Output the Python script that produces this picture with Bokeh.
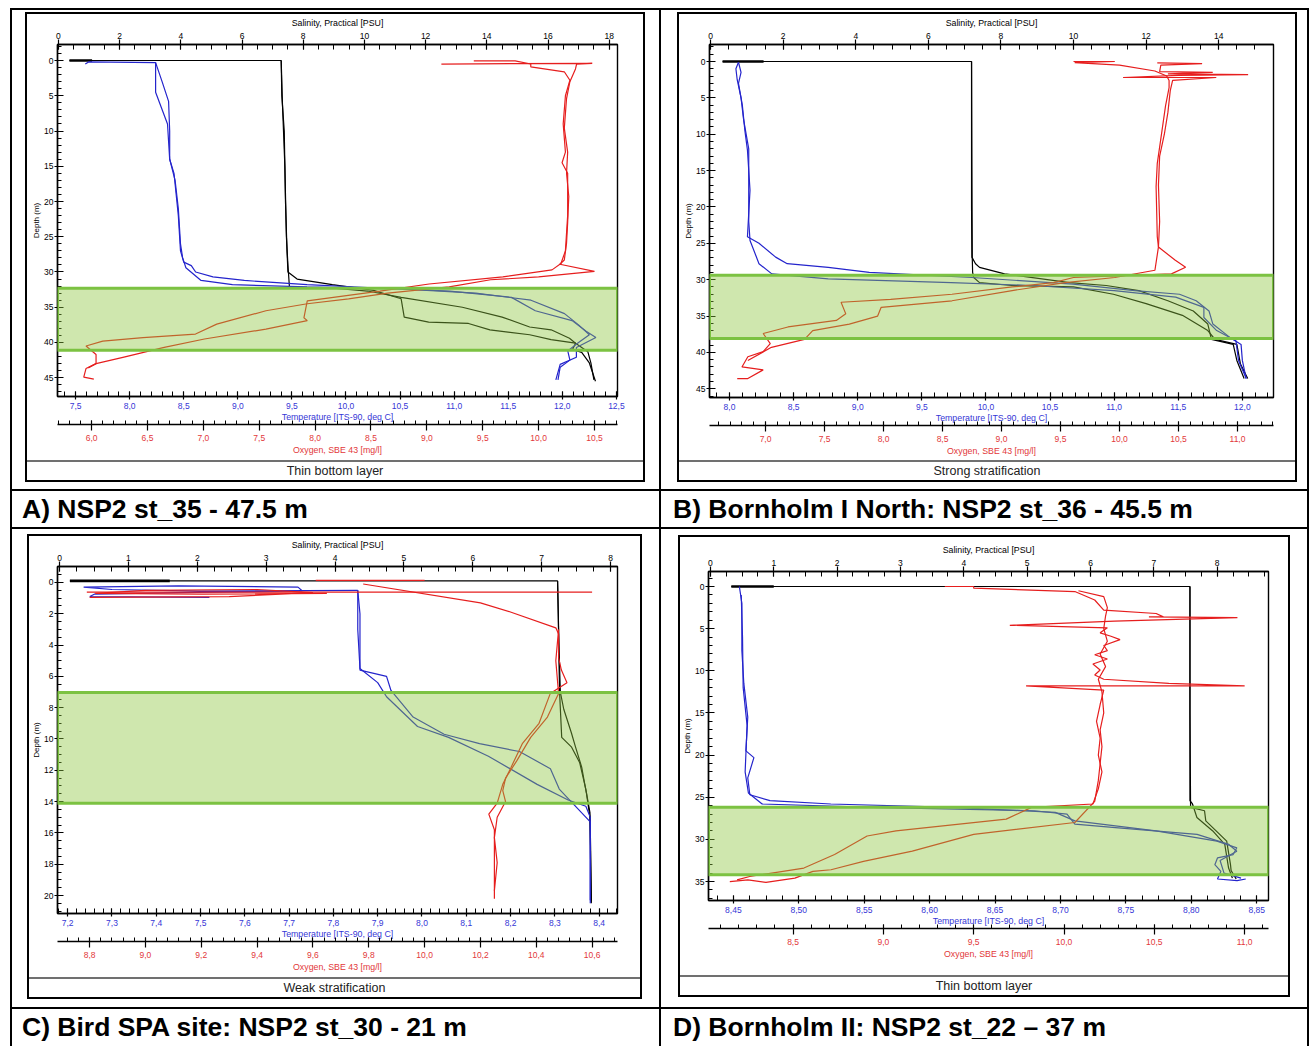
from bokeh.plotting import figure
from bokeh.models import (Range1d, LinearAxis, SingleIntervalTicker,
                          CustomJSTickFormatter, BoxAnnotation, Div)
from bokeh.layouts import row, column
from bokeh.embed import file_html
from bokeh.resources import INLINE

# ------------------------------------------------------------------ data
# each profile trace: list of (value, depth_m)

# ---- A) NSP2 st_35
A_label = "A) NSP2 st_35 - 47.5 m"
A_caption = "Thin bottom layer"
A_layer = [32.3, 41.1]
A_sal_surf = [(0.36, 0.0), (1.1, 0.0)]
A_sal_1 = [(0.36, 0.0), (7.28, 0.0), (7.3, 5), (7.38, 10), (7.42, 20), (7.47, 27), (7.5, 30),
           (7.8, 31.0), (8.95, 31.8), (10.3, 32.6), (11.2, 33.8), (11.3, 36.4), (12.1, 37.1),
           (13.4, 37.3), (14.1, 38.2), (15.4, 38.9), (16.1, 39.6), (16.9, 40.1), (17.3, 41.3),
           (17.4, 42.9), (17.5, 45.3)]
A_sal_2 = [(7.28, 0.0), (7.32, 6), (7.4, 15), (7.45, 25), (7.5, 29), (7.55, 32.2), (9.0, 32.3),
           (10.1, 32.7), (11.2, 33.6), (13.2, 35.0), (14.5, 36.4), (15.4, 37.8), (16.1, 38.2),
           (16.7, 39.4), (16.9, 40.1), (16.8, 41.0), (17.1, 41.4), (17.35, 42.9), (17.55, 45.5)]
A_tmp_1 = [(7.59, 0.5), (7.62, 0.2), (8.24, 0.3), (8.24, 4.5), (8.35, 9), (8.37, 14), (8.41, 16),
           (8.43, 19), (8.45, 22), (8.47, 27), (8.5, 28.6), (8.57, 29.1), (8.61, 30.0), (8.77, 30.7),
           (9.06, 31.2), (9.64, 31.8), (10.2, 32.2), (10.96, 32.7), (11.53, 33.6), (11.75, 35.5),
           (12.09, 36.9), (12.22, 38.4), (12.31, 39.3), (12.13, 40.7), (12.13, 42.1), (11.98, 43.1),
           (11.94, 45.3)]
A_tmp_2 = [(8.24, 0.3), (8.30, 3.0), (8.36, 5.8), (8.37, 10), (8.37, 14), (8.42, 17), (8.45, 21),
           (8.47, 26), (8.49, 28), (8.52, 29.4), (8.66, 31.2), (8.95, 31.8), (9.64, 32.1), (10.5, 32.4),
           (11.2, 33.0), (11.71, 34.0), (12.02, 35.9), (12.15, 37.5), (12.25, 38.9), (12.15, 40.0),
           (12.05, 41.2), (12.07, 42.5), (11.98, 43.5), (11.96, 45.3)]
A_oxy_1 = [(9.13, 0.5), (10.48, 0.4), (10.34, 0.5), (10.33, 1.2), (10.28, 3.0), (10.25, 5.4),
           (10.23, 9.6), (10.26, 13.0), (10.25, 16), (10.27, 19.3), (10.26, 23), (10.25, 25.9),
           (10.23, 28.3), (10.19, 28.9), (10.5, 29.9), (10.0, 30.7), (9.57, 31.1), (9.2, 32.1),
           (8.65, 33.0), (8.3, 33.8), (7.93, 34.5), (7.56, 35.5), (7.12, 37.4), (6.93, 38.8),
           (6.46, 39.3), (6.1, 39.8), (5.95, 40.5), (6.04, 41.7), (6.04, 43.0), (5.95, 43.7),
           (5.93, 44.9), (6.02, 45.2)]
A_oxy_2 = [(9.42, 0.05), (9.79, 0.05), (9.93, 0.5), (9.93, 0.9), (10.23, 1.6), (10.28, 2.8),
           (10.24, 5), (10.22, 9), (10.24, 13), (10.21, 14.5), (10.26, 16), (10.26, 22), (10.24, 27),
           (10.2, 28.8), (10.12, 29.7), (9.68, 30.7), (9.02, 31.7), (8.58, 32.7), (7.93, 34.1),
           (7.9, 36.5), (7.93, 36.9), (7.56, 38.1), (7.01, 39.5), (6.65, 40.7), (6.28, 42.1),
           (6.04, 43.0), (5.97, 43.6)]

# ---- B) Bornholm I North: NSP2 st_36
B_label = "B) Bornholm I North: NSP2 st_36 - 45.5 m"
B_caption = "Strong stratification"
B_layer = [29.4, 38.1]
B_sal_surf = [(0.33, 0.0), (1.46, 0.0)]
B_sal_1 = [(0.33, 0.0), (7.19, 0.0), (7.19, 10), (7.19, 20), (7.2, 26.9), (7.3, 27.8), (7.41, 28.3),
           (8.1, 29.2), (9.89, 30.4), (10.9, 30.8), (11.8, 31.5), (12.6, 32.9), (13.3, 34.3),
           (13.7, 36.1), (13.8, 38.2), (14.4, 38.9), (14.5, 41.1), (14.7, 43.6)]
B_sal_2 = [(7.19, 0.0), (7.2, 15), (7.21, 27), (7.22, 29.0), (7.25, 29.7), (7.41, 30.4), (8.3, 30.8),
           (10.0, 31.0), (11.1, 32.0), (12.0, 33.3), (13.0, 34.9), (13.7, 37.0), (13.9, 38.2),
           (14.5, 38.9), (14.6, 41.6), (14.8, 43.6)]
B_tmp_1 = [(8.07, 0.1), (8.09, 1.5), (8.07, 3), (8.1, 6), (8.12, 9.5), (8.14, 12.2), (8.16, 17.7),
           (8.14, 24.1), (8.23, 25.0), (8.36, 26.9), (8.45, 27.8), (8.77, 28.3), (9.09, 29.0),
           (9.89, 29.7), (10.68, 30.6), (11.16, 31.5), (11.51, 32.0), (11.64, 32.9), (11.74, 34.3),
           (11.77, 36.1), (11.9, 37.9), (11.99, 38.9), (12.0, 41.1), (12.03, 43.6)]
B_tmp_2 = [(8.07, 0.1), (8.05, 1.0), (8.06, 2.5), (8.09, 5), (8.11, 8), (8.15, 12), (8.15, 18),
           (8.15, 22), (8.16, 24.6), (8.23, 27.8), (8.33, 29.2), (8.77, 29.9), (9.73, 30.4),
           (10.36, 30.8), (11.0, 31.5), (11.48, 32.4), (11.7, 33.8), (11.7, 35.2), (11.8, 37.0),
           (11.95, 38.4), (11.97, 41.1), (12.03, 43.6)]
B_oxy_1 = [(9.61, 0.0), (9.96, 0.0), (9.62, 0.15), (10.0, 0.5), (10.3, 1.3), (10.4, 2.0),
           (10.42, 2.6), (10.42, 3.6), (10.39, 6.1), (10.36, 9.5), (10.32, 14.0), (10.31, 17.2),
           (10.32, 24.1), (10.33, 25.5), (10.47, 27.3), (10.56, 28.3), (10.44, 29.2), (9.61, 29.7),
           (9.44, 30.4), (9.09, 31.0), (8.58, 32.0), (8.06, 32.7), (7.64, 33.1), (7.68, 34.7),
           (7.6, 35.6), (7.19, 36.5), (6.98, 37.4), (7.04, 38.8), (6.98, 39.9), (6.85, 40.6),
           (6.8, 42.0), (6.98, 42.4), (6.85, 43.6), (6.76, 43.6)]
B_oxy_2 = [(10.32, 0.2), (10.7, 0.3), (10.35, 0.5), (10.34, 1.4), (10.79, 1.5), (10.41, 1.7),
           (11.09, 1.8), (10.5, 1.9), (10.03, 2.2), (10.82, 2.2), (10.45, 2.6), (10.43, 4),
           (10.41, 7), (10.38, 10), (10.34, 13), (10.33, 17), (10.34, 22), (10.33, 25.5),
           (10.3, 28.7), (9.96, 29.7), (9.54, 30.4), (9.09, 31.5), (8.58, 32.9), (7.98, 33.8),
           (7.95, 35.0), (7.71, 36.1), (7.4, 37.0), (7.33, 38.2), (7.05, 39.3), (6.85, 41.1)]

# ---- C) Bird SPA site: NSP2 st_30
C_label = "C) Bird SPA site: NSP2 st_30 - 21 m"
C_caption = "Weak stratification"
C_layer = [7.03, 14.1]
C_sal_surf = [(0.15, -0.1), (1.6, -0.1)]
C_sal_1 = [(0.15, -0.1), (7.23, -0.1), (7.24, 2), (7.25, 5), (7.26, 7.1), (7.29, 9.9), (7.43, 10.5),
           (7.55, 11.5), (7.64, 13.2), (7.7, 14.7), (7.71, 17), (7.72, 20.5)]
C_sal_2 = [(7.23, -0.1), (7.25, 4), (7.27, 7.0), (7.32, 8.1), (7.43, 9.6), (7.49, 10.5),
           (7.58, 11.8), (7.65, 13.5), (7.7, 15), (7.71, 18), (7.72, 20.4)]
C_tmp_s = [(7.855, 0.5), (7.5, 0.55), (7.3, 0.45), (7.236, 0.3), (7.45, 0.22), (7.72, 0.3),
           (7.73, 0.55), (7.45, 0.65), (7.26, 0.75), (7.25, 0.9), (7.52, 0.95)]
C_tmp_1 = [(7.855, 0.5), (7.86, 2), (7.86, 4.3), (7.86, 5.6), (7.92, 6.0), (7.93, 6.9), (7.98, 8.6),
           (8.05, 9.7), (8.13, 10.3), (8.22, 10.8), (8.29, 11.9), (8.31, 13.2), (8.38, 15.3),
           (8.38, 18), (8.38, 20.5)]
C_tmp_2 = [(7.855, 0.5), (7.855, 3), (7.86, 5.5), (7.9, 6.4), (7.92, 7.3), (7.99, 9.2), (8.06, 9.9),
           (8.15, 11.1), (8.26, 12.9), (8.33, 13.9), (8.37, 14.3), (8.38, 15.0), (8.38, 20.3)]
C_oxy_top1 = [(9.61, -0.13), (10.0, -0.13)]
C_oxy_top2 = [(8.79, 0.62), (10.6, 0.62)]
C_oxy_s = [(8.8, 0.95), (9.3, 0.9), (9.6, 0.65), (9.4, 0.45), (9.0, 0.5), (8.82, 0.7), (9.2, 0.75),
           (9.65, 0.7)]
C_oxy_1 = [(9.78, 0.1), (10.2, 1.3), (10.31, 1.9), (10.47, 2.9), (10.48, 3.3), (10.48, 4.8),
           (10.49, 5.6), (10.51, 6.4), (10.45, 7.1), (10.41, 9.0), (10.35, 10.3), (10.31, 11.8),
           (10.28, 12.9), (10.26, 14.1), (10.23, 14.8), (10.25, 15.8), (10.25, 17.1), (10.25, 18.8),
           (10.25, 20.2)]
C_oxy_2 = [(10.48, 3.0), (10.47, 5.0), (10.48, 7.1), (10.44, 8.6), (10.38, 9.9), (10.33, 11.4),
           (10.29, 12.5), (10.28, 13.3), (10.29, 14.0), (10.26, 15.0), (10.25, 16.3), (10.26, 17.9),
           (10.25, 19.7)]

# ---- D) Bornholm II: NSP2 st_22
D_label = "D) Bornholm II: NSP2 st_22 \u2013 37 m"
D_caption = "Thin bottom layer"
D_layer = [26.2, 34.2]
D_sal_surf = [(0.33, 0.0), (1.0, 0.0)]
D_sal_1 = [(0.33, 0.0), (7.57, 0.0), (7.57, 10), (7.57, 20), (7.57, 25.4), (7.61, 25.8),
           (7.68, 27.4), (7.93, 29.0), (8.12, 30.6), (8.18, 33.4), (8.24, 34.6)]
D_sal_2 = [(7.57, 0.0), (7.57, 15), (7.58, 26.2), (7.8, 26.6), (7.82, 27.8), (7.93, 28.6),
           (8.15, 30.2), (8.21, 33.0), (8.22, 33.7), (8.3, 34.7)]
D_tmp_1 = [(8.4546, 0.0), (8.4565, 2), (8.4565, 7.6), (8.458, 11.5), (8.461, 15.5), (8.4596, 19.5),
           (8.4657, 20.3), (8.461, 22.7), (8.4626, 24.7), (8.478, 25.4), (8.5245, 25.8),
           (8.618, 26.2), (8.696, 26.8), (8.711, 27.8), (8.773, 29.0), (8.8196, 30.2),
           (8.8348, 31.0), (8.832, 31.8), (8.82, 32.2), (8.818, 33.0), (8.8226, 33.8), (8.82, 34.7),
           (8.835, 34.9), (8.8416, 34.7)]
D_tmp_2 = [(8.456, 1.0), (8.457, 6), (8.4575, 12), (8.4605, 16.5), (8.459, 22), (8.4615, 24.5),
           (8.472, 25.8), (8.556, 26.2), (8.6797, 26.6), (8.705, 27.0), (8.711, 28.2),
           (8.742, 28.6), (8.8044, 29.4), (8.8287, 30.6), (8.8348, 31.4), (8.822, 32.5),
           (8.825, 34.0), (8.838, 34.6)]
D_oxy_1 = [(9.34, 0.0), (9.5, 0.0), (9.5, 0.2), (10.06, 0.6), (10.17, 1.6), (10.22, 2.8),
           (10.51, 3.2), (10.55, 3.6), (10.47, 3.6), (10.96, 3.7), (10.28, 4.1), (9.7, 4.6),
           (10.24, 4.9), (10.2, 5.5), (10.26, 5.9), (10.31, 6.3), (10.22, 7.0), (10.24, 7.6),
           (10.17, 8.1), (10.24, 8.6), (10.16, 9.2), (10.2, 9.9), (10.17, 10.5), (10.22, 11.0),
           (10.58, 11.5), (11.0, 11.8), (9.79, 11.8), (10.22, 12.3), (10.2, 14), (10.18, 16),
           (10.2, 18), (10.19, 20), (10.21, 22), (10.19, 24), (10.16, 25.8), (9.82, 26.2),
           (9.68, 27.6), (9.07, 29.0), (8.91, 29.6), (8.73, 31.8), (8.56, 33.4), (8.26, 34.4),
           (8.19, 34.8)]
D_oxy_2 = [(10.08, 0.5), (10.22, 1.2), (10.24, 2.5), (10.23, 3.5), (10.22, 5), (10.24, 6.5),
           (10.2, 8), (10.23, 9.5), (10.19, 11), (10.21, 12.5), (10.22, 15), (10.2, 17),
           (10.21, 19), (10.2, 21), (10.19, 23), (10.17, 25.5), (10.06, 28.0), (9.5, 29.4),
           (9.16, 31.4), (8.89, 32.6), (8.71, 33.6), (8.61, 33.8), (8.51, 34.6), (8.35, 35.1),
           (8.25, 34.8), (8.15, 35.0)]

# ------------------------------------------------------------------ style
FONT = "Liberation Sans"
LINE_BLUE = "#2424cc"
LINE_RED = "#e61e1e"
TXT_BLUE = "#3636d6"
TXT_RED = "#e2383a"


def fmt(dec):
    return CustomJSTickFormatter(code="return tick.toFixed(%d).replace('.', ',');" % dec)


def style_axis(ax, label_color, title, tin, tout, mtin, lstand, tstand, title_size="8.8px"):
    ax.axis_label = title
    ax.axis_label_text_font = FONT
    ax.axis_label_text_font_size = title_size
    ax.axis_label_text_font_style = "normal"
    ax.axis_label_text_color = label_color
    ax.axis_label_standoff = tstand
    ax.major_label_text_font = FONT
    ax.major_label_text_font_size = "8.5px"
    ax.major_label_text_color = label_color
    ax.major_label_standoff = lstand
    ax.axis_line_color = "black"
    ax.axis_line_width = 1.4
    ax.major_tick_line_color = "black"
    ax.major_tick_line_width = 1.2
    ax.minor_tick_line_color = "black"
    ax.minor_tick_line_width = 1.0
    ax.major_tick_in = tin
    ax.major_tick_out = tout
    ax.minor_tick_in = mtin
    ax.minor_tick_out = 0


def xy(trace):
    return [v for v, _ in trace], [d for _, d in trace]


def make_fig(cfg, sal, tmp, oxy, surf, layer):
    w, h = cfg["size"]
    bl, br, bt, bb = cfg["borders"]
    s0, s1, si, sm, sd = cfg["sal"]
    t0, t1, ti, tm, td = cfg["temp"]
    o0, o1, oi, om, od = cfg["oxy"]
    d0, d1, di, dm = cfg["depth"]
    p = figure(width=w, height=h, x_range=Range1d(s0, s1), y_range=Range1d(d0, d1),
               x_axis_location="above", toolbar_location=None, output_backend="svg",
               min_border_left=bl, min_border_right=br, min_border_top=bt,
               min_border_bottom=bb, background_fill_color="white",
               border_fill_color="white")
    p.extra_x_ranges = {"temp": Range1d(t0, t1), "oxy": Range1d(o0, o1)}
    p.xgrid.visible = False
    p.ygrid.visible = False
    p.outline_line_color = "black"
    p.outline_line_width = 1.4
    p.outline_line_alpha = 1.0

    sax = p.xaxis[0]
    sax.ticker = SingleIntervalTicker(interval=si, num_minor_ticks=sm)
    sax.formatter = fmt(sd)
    style_axis(sax, "black", "Salinity, Practical [PSU]", 5, 5, 5, 1, 2)

    tax = LinearAxis(x_range_name="temp",
                     ticker=SingleIntervalTicker(interval=ti, num_minor_ticks=tm),
                     formatter=fmt(td))
    style_axis(tax, TXT_BLUE, "Temperature [ITS-90, deg C]", 5, 3, 5, 3, 0)
    p.add_layout(tax, "below")

    oax = LinearAxis(x_range_name="oxy",
                     ticker=SingleIntervalTicker(interval=oi, num_minor_ticks=om),
                     formatter=fmt(od))
    style_axis(oax, TXT_RED, "Oxygen, SBE 43 [mg/l]", 4, 6, 4, 4, 1)
    p.add_layout(oax, "below")

    yax = p.yaxis[0]
    yax.ticker = SingleIntervalTicker(interval=di, num_minor_ticks=dm)
    yax.formatter = fmt(0)
    style_axis(yax, "black", "Depth (m)", 6, 3, 4, 1, 0, title_size="8px")

    for tr in sal:
        xs, ds = xy(tr)
        p.line(xs, ds, line_color="black", line_width=1.2)
    xs, ds = xy(surf)
    p.line(xs, ds, line_color="black", line_width=2.6)
    for tr in tmp:
        xs, ds = xy(tr)
        p.line(xs, ds, line_color=LINE_BLUE, line_width=1.2, x_range_name="temp")
    for tr in oxy:
        xs, ds = xy(tr)
        p.line(xs, ds, line_color=LINE_RED, line_width=1.2, x_range_name="oxy")

    p.add_layout(BoxAnnotation(top=layer[0], bottom=layer[1], fill_color="#8cc63f",
                               fill_alpha=0.42, line_color="#7cc242", line_width=3,
                               line_alpha=1.0))
    return p


CFG = {
    "A": dict(size=(616, 446), borders=(30, 26, 30, 64),
              sal=(-0.03, 18.27, 2, 4, 0), temp=(7.333, 12.51, 0.5, 5, 1),
              oxy=(5.695, 10.706, 0.5, 5, 1), depth=(47.66, -2.27, 5, 5)),
    "B": dict(size=(616, 446), borders=(30, 22, 30, 63),
              sal=(-0.03, 15.51, 2, 4, 0), temp=(7.844, 12.243, 0.5, 5, 1),
              oxy=(6.525, 11.305, 0.5, 5, 1), depth=(46.2, -2.34, 5, 5)),
    "C": dict(size=(611, 441), borders=(28, 23, 30, 64),
              sal=(-0.03, 8.10, 1, 4, 0), temp=(7.177, 8.4415, 0.1, 5, 1),
              oxy=(8.685, 10.691, 0.2, 5, 1), depth=(21.15, -1.02, 2, 4)),
    "D": dict(size=(608, 438), borders=(25, 20, 34, 75),
              sal=(-0.03, 8.81, 1, 4, 0), temp=(8.431, 8.859, 0.05, 4, 2),
              oxy=(8.032, 11.132, 0.5, 5, 1), depth=(37.25, -1.78, 5, 5)),
}

figA = make_fig(CFG["A"], [A_sal_1, A_sal_2], [A_tmp_1, A_tmp_2], [A_oxy_1, A_oxy_2],
                A_sal_surf, A_layer)
figB = make_fig(CFG["B"], [B_sal_1, B_sal_2], [B_tmp_1, B_tmp_2], [B_oxy_1, B_oxy_2],
                B_sal_surf, B_layer)
figC = make_fig(CFG["C"], [C_sal_1, C_sal_2], [C_tmp_s, C_tmp_1, C_tmp_2],
                [C_oxy_top1, C_oxy_top2, C_oxy_s, C_oxy_1, C_oxy_2], C_sal_surf, C_layer)
figD = make_fig(CFG["D"], [D_sal_1, D_sal_2], [D_tmp_1, D_tmp_2], [D_oxy_1, D_oxy_2],
                D_sal_surf, D_layer)


# ------------------------------------------------------------------ page layout
def sp(w, h, color=None):
    st = {"background-color": color} if color else {}
    return Div(text="", width=w, height=h, margin=0, styles=st)


def framed(fig, fw, fh, caption, cap_h=18):
    side_h = fh + 2 + cap_h
    cap = Div(text='<div style="width:%dpx;text-align:center;font-family:Liberation Sans;'
                   'font-size:12.5px;line-height:%dpx;color:#222;white-space:nowrap">%s</div>'
                   % (fw, cap_h, caption),
              width=fw, height=cap_h, margin=0)
    inner = column(fig, sp(fw, 2, "#707070"), cap, spacing=0)
    return column(sp(fw + 4, 2, "black"),
                  row(sp(2, side_h, "black"), inner, sp(2, side_h, "black"), spacing=0),
                  sp(fw + 4, 2, "black"), spacing=0)


def label(text, w, h):
    return Div(text='<div style="font-family:Liberation Sans;font-weight:bold;font-size:26.5px;'
                    'line-height:%dpx;white-space:nowrap;color:#000">%s</div>' % (h, text),
               width=w, height=h, margin=0)


def hline():
    return row(sp(10, 2), sp(1299, 2, "black"), sp(1, 2), spacing=0)


def vl(h):
    return sp(2, h, "black")


R1 = 479
fa = framed(figA, 616, 446, A_caption)
fb = framed(figB, 616, 446, B_caption)
row1 = row(sp(10, R1), vl(R1), sp(13, R1),
           column(sp(620, 2), fa, sp(620, 7), spacing=0),
           sp(14, R1), vl(R1), sp(16, R1),
           column(sp(620, 2), fb, sp(620, 7), spacing=0),
           sp(10, R1), vl(R1), sp(1, R1), spacing=0)

L1 = 36
lab1 = row(sp(10, L1), vl(L1), sp(10, L1), label(A_label, 637, L1), vl(L1), sp(12, L1),
           label(B_label, 634, L1), vl(L1), sp(1, L1), spacing=0)

R2 = 478
fc = framed(figC, 611, 441, C_caption)
fd = framed(figD, 608, 438, D_caption)
row2 = row(sp(10, R2), vl(R2), sp(15, R2),
           column(sp(615, 5), fc, sp(615, 8), spacing=0),
           sp(17, R2), vl(R2), sp(17, R2),
           column(sp(612, 6), fd, sp(612, 10), spacing=0),
           sp(17, R2), vl(R2), sp(1, R2), spacing=0)

L2 = 37
lab2 = row(sp(10, L2), vl(L2), sp(10, L2), label(C_label, 637, L2), vl(L2), sp(12, L2),
           label(D_label, 634, L2), vl(L2), sp(1, L2), spacing=0)

page = column(sp(1310, 8), hline(), row1, hline(), lab1, hline(), row2, hline(), lab2,
              spacing=0)

open("out.html", "w").write(file_html(page, INLINE))
